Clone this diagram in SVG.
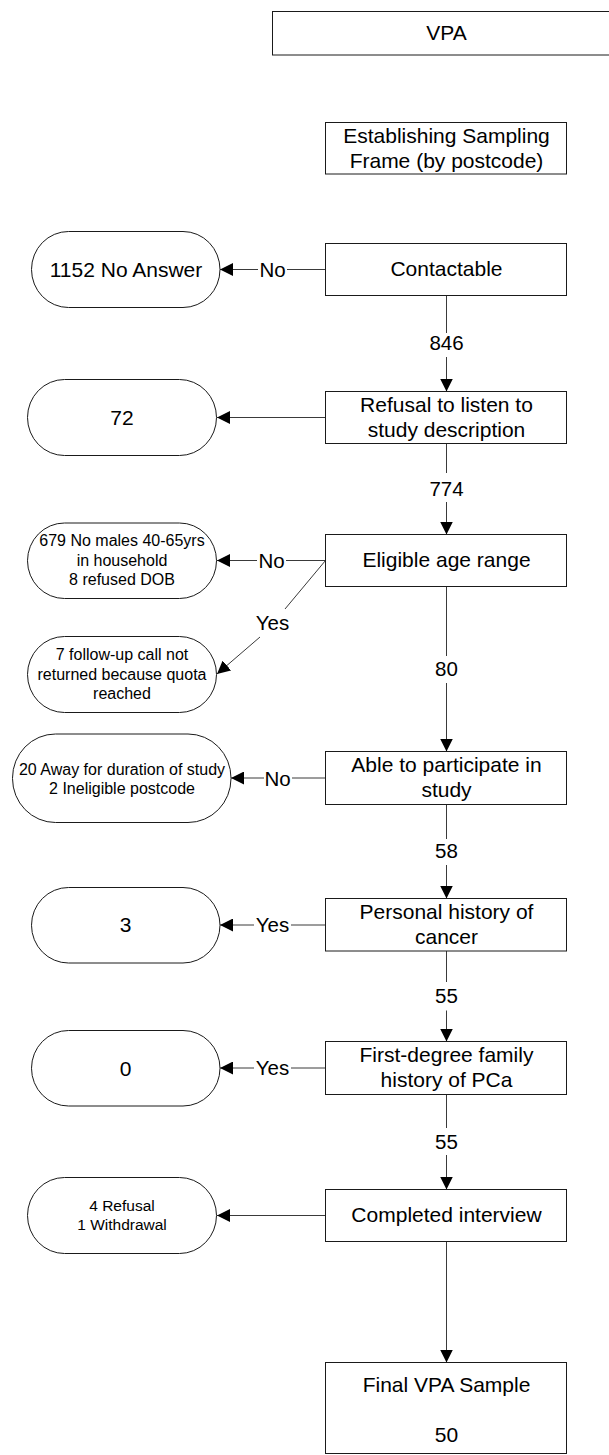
<svg xmlns="http://www.w3.org/2000/svg" width="609" height="1455" viewBox="0 0 609 1455">
  <style>
    .box { fill: #fff; stroke: #1a1a1a; stroke-width: 1; }
    .term { fill: #fff; stroke: #1a1a1a; stroke-width: 1; }
    .t { font-family: "Liberation Sans", Arial, sans-serif; font-size: 21px; fill: #000; text-anchor: middle; }
    .s { font-family: "Liberation Sans", Arial, sans-serif; font-size: 16px; fill: #000; text-anchor: middle; }
    .xs { font-family: "Liberation Sans", Arial, sans-serif; font-size: 15.5px; fill: #000; text-anchor: middle; }
    .lbl { font-family: "Liberation Sans", Arial, sans-serif; font-size: 20.5px; fill: #000; text-anchor: middle; }
    .c { fill: none; stroke: #3a3a3a; stroke-width: 1; }
  </style>
  <defs>
    <marker id="arrow" viewBox="0 0 13 13" refX="13" refY="6.5" markerWidth="13" markerHeight="13" markerUnits="userSpaceOnUse" orient="auto">
      <path d="M0,0 L13,6.5 L0,13 z" fill="#000"/>
    </marker>
  </defs>

  <rect width="609" height="1455" fill="#fff"/>

  <!-- connectors -->
  <g id="connectors">
    <!-- main column -->
    <line class="c" x1="446.5" y1="295.5" x2="446.5" y2="333"/>
    <line class="c" x1="446.5" y1="357" x2="446.5" y2="391.5" marker-end="url(#arrow)"/>
    <text class="lbl" x="446.5" y="350">846</text>

    <line class="c" x1="446.5" y1="443.5" x2="446.5" y2="473"/>
    <line class="c" x1="446.5" y1="502" x2="446.5" y2="534.5" marker-end="url(#arrow)"/>
    <text class="lbl" x="446.5" y="496">774</text>

    <line class="c" x1="446.5" y1="586.5" x2="446.5" y2="656"/>
    <line class="c" x1="446.5" y1="683" x2="446.5" y2="751.5" marker-end="url(#arrow)"/>
    <text class="lbl" x="446.5" y="676">80</text>

    <line class="c" x1="446.5" y1="804.5" x2="446.5" y2="839"/>
    <line class="c" x1="446.5" y1="865" x2="446.5" y2="898.5" marker-end="url(#arrow)"/>
    <text class="lbl" x="446.5" y="857.5">58</text>

    <line class="c" x1="446.5" y1="951" x2="446.5" y2="982"/>
    <line class="c" x1="446.5" y1="1010.5" x2="446.5" y2="1041.5" marker-end="url(#arrow)"/>
    <text class="lbl" x="446.5" y="1003">55</text>

    <line class="c" x1="446.5" y1="1094.5" x2="446.5" y2="1128"/>
    <line class="c" x1="446.5" y1="1155" x2="446.5" y2="1189.5" marker-end="url(#arrow)"/>
    <text class="lbl" x="446.5" y="1148.5">55</text>

    <line class="c" x1="446.5" y1="1241.5" x2="446.5" y2="1362.5" marker-end="url(#arrow)"/>

    <!-- side exits -->
    <line class="c" x1="325.5" y1="269.5" x2="287" y2="269.5"/>
    <line class="c" x1="258" y1="269.5" x2="220" y2="269.5" marker-end="url(#arrow)"/>
    <text class="lbl" x="272.5" y="277">No</text>

    <line class="c" x1="325.5" y1="417.5" x2="217" y2="417.5" marker-end="url(#arrow)"/>

    <line class="c" x1="325.5" y1="560.5" x2="286" y2="560.5"/>
    <line class="c" x1="257" y1="560.5" x2="217" y2="560.5" marker-end="url(#arrow)"/>
    <text class="lbl" x="271.5" y="568">No</text>

    <line class="c" x1="325.5" y1="560.5" x2="285" y2="609"/>
    <line class="c" x1="260" y1="637" x2="217" y2="674" marker-end="url(#arrow)"/>
    <text class="lbl" x="272.5" y="630">Yes</text>

    <line class="c" x1="325.5" y1="778" x2="292" y2="778"/>
    <line class="c" x1="264" y1="778" x2="231" y2="778" marker-end="url(#arrow)"/>
    <text class="lbl" x="277.5" y="785.5">No</text>

    <line class="c" x1="325.5" y1="925" x2="291" y2="925"/>
    <line class="c" x1="254" y1="925" x2="220" y2="925" marker-end="url(#arrow)"/>
    <text class="lbl" x="272.5" y="932">Yes</text>

    <line class="c" x1="325.5" y1="1068" x2="291" y2="1068"/>
    <line class="c" x1="254" y1="1068" x2="220" y2="1068" marker-end="url(#arrow)"/>
    <text class="lbl" x="272.5" y="1075">Yes</text>

    <line class="c" x1="325.5" y1="1215.5" x2="217" y2="1215.5" marker-end="url(#arrow)"/>
  </g>

  <!-- process boxes -->
  <g id="vpa">
    <rect class="box" x="272.5" y="11.5" width="348" height="43.5"/>
    <text class="t" x="446.5" y="40">VPA</text>
  </g>
  <g id="sampling-frame">
    <rect class="box" x="325.5" y="122.5" width="241" height="51.5"/>
    <text class="t" x="446.5" y="143">Establishing Sampling</text>
    <text class="t" x="446.5" y="167.5">Frame (by postcode)</text>
  </g>
  <g id="contactable">
    <rect class="box" x="325.5" y="243.5" width="241" height="52"/>
    <text class="t" x="446.5" y="275.5">Contactable</text>
  </g>
  <g id="refusal">
    <rect class="box" x="325.5" y="391.5" width="241" height="52"/>
    <text class="t" x="446.5" y="411.5">Refusal to listen to</text>
    <text class="t" x="446.5" y="436.5">study description</text>
  </g>
  <g id="eligible">
    <rect class="box" x="325.5" y="534.5" width="241" height="52"/>
    <text class="t" x="446.5" y="566.5">Eligible age range</text>
  </g>
  <g id="able">
    <rect class="box" x="325.5" y="751.5" width="241" height="53"/>
    <text class="t" x="446.5" y="771.5">Able to participate in</text>
    <text class="t" x="446.5" y="796.5">study</text>
  </g>
  <g id="personal-history">
    <rect class="box" x="325.5" y="898.5" width="241" height="52.5"/>
    <text class="t" x="446.5" y="918.5">Personal history of</text>
    <text class="t" x="446.5" y="943.5">cancer</text>
  </g>
  <g id="family-history">
    <rect class="box" x="325.5" y="1041.5" width="241" height="53"/>
    <text class="t" x="446.5" y="1061.5">First-degree family</text>
    <text class="t" x="446.5" y="1086.5">history of PCa</text>
  </g>
  <g id="completed">
    <rect class="box" x="325.5" y="1189.5" width="241" height="52"/>
    <text class="t" x="446.5" y="1221.5">Completed interview</text>
  </g>
  <g id="final-sample">
    <rect class="box" x="325.5" y="1362.5" width="241" height="91"/>
    <text class="t" x="446.5" y="1392">Final VPA Sample</text>
    <text class="t" x="446.5" y="1442">50</text>
  </g>

  <!-- exclusion terminals -->
  <g id="no-answer">
    <rect class="term" x="31.5" y="231.5" width="188.5" height="76" rx="37" ry="38"/>
    <text class="t" x="126" y="276.5">1152 No Answer</text>
  </g>
  <g id="refused-listen">
    <rect class="term" x="27.5" y="379.5" width="189" height="76" rx="37" ry="38"/>
    <text class="t" x="122" y="424.5">72</text>
  </g>
  <g id="not-eligible">
    <rect class="term" x="27.5" y="523" width="189" height="75.5" rx="37" ry="37.75"/>
    <text class="s" x="122" y="545.5">679 No males 40-65yrs</text>
    <text class="s" x="122" y="565.5">in household</text>
    <text class="s" x="122" y="585">8 refused DOB</text>
  </g>
  <g id="quota-reached">
    <rect class="term" x="27.5" y="636.5" width="189" height="76" rx="37" ry="38"/>
    <text class="s" x="122" y="660">7 follow-up call not</text>
    <text class="s" x="122" y="680">returned because quota</text>
    <text class="s" x="122" y="699">reached</text>
  </g>
  <g id="unable">
    <rect class="term" x="12.5" y="734" width="218.5" height="88.5" rx="43" ry="44"/>
    <text class="s" x="122" y="775">20 Away for duration of study</text>
    <text class="s" x="122" y="794">2 Ineligible postcode</text>
  </g>
  <g id="cancer-history">
    <rect class="term" x="31.5" y="887.5" width="188.5" height="75.5" rx="37" ry="37.75"/>
    <text class="t" x="125.5" y="932">3</text>
  </g>
  <g id="family-pca">
    <rect class="term" x="31.5" y="1030.5" width="188.5" height="75.5" rx="37" ry="37.75"/>
    <text class="t" x="125.5" y="1075.5">0</text>
  </g>
  <g id="not-completed">
    <rect class="term" x="27.5" y="1177.5" width="189" height="76" rx="37" ry="38"/>
    <text class="xs" x="122" y="1211">4 Refusal</text>
    <text class="xs" x="122" y="1230">1 Withdrawal</text>
  </g>
</svg>
